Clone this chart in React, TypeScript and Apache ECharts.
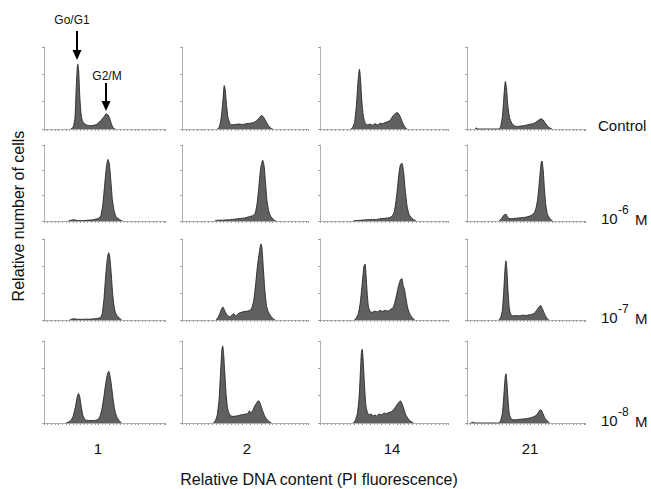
import React, { useEffect, useRef } from "react";
import * as echarts from "echarts";

// Days (columns) and concentrations (rows)
const days = ["1", "2", "14", "21"];
const rowLabels = ["Control", "10^-6", "10^-7", "10^-8"];

// Histograms: [relative DNA content (0-100), relative number of cells (0-100)]
const ctrlDay1 = [[22,0],[24,2],[25.5,12],[26.5,45],[27.5,75],[28,79],[28.7,70],[29.5,42],[30.5,20],[31.5,11],[33,7],[35,5],[38,4],[41,4.5],[44,6],[46,9],[48,12],[50,16],[51.5,18.5],[53,17],[54.5,12],[56,5],[57.5,1],[59,0]];
const ctrlDay2 = [[28,0],[29.5,2],[31,12],[32.5,35],[33.5,53],[34.3,48],[35.3,30],[36.5,14],[38,7],[39.5,5],[42,5.5],[45,6],[48,5.5],[51,6.5],[54,7],[57,8],[59,10],[61,13],[63,16.5],[64.5,15],[66,11],[67.5,7],[69,3],[71,0.5],[72,0]];
const ctrlDay14 = [[24,0],[25.5,2],[27,8],[28.5,30],[29.8,60],[30.8,73],[31.6,62],[32.5,38],[33.5,20],[34.5,11],[35.5,7],[37,5],[39,6],[41,4.5],[43,6.5],[45,5],[47,7],[49,6.5],[51,8],[53,9],[55,11],[57,16],[59,19],[60.5,20],[62,17],[63.5,12],[65,6],[66.5,2],[68,0]];
const ctrlDay21 = [[7,0],[8,1.5],[9,0],[27,0],[28.5,3],[30,15],[31.3,40],[32.5,58],[33.5,50],[34.5,30],[36,14],[38,7],[40,4],[42,3],[45,3.5],[48,4],[51,5],[54,6],[57,7],[59,9],[61,11],[63,12.5],[64.5,11],[66,8],[68,4],[70,1.5],[72,0]];

const m6Day1 = [[20,0],[22,1],[25,1.5],[28,0.5],[32,0.5],[36,1],[40,1.5],[43,2.5],[45.5,4],[47,7],[48.5,20],[50,45],[51.5,70],[52.8,81],[54,75],[55.3,52],[56.5,28],[58,13],[59.5,6],[61.5,3],[63.5,1],[65,0]];
const m6Day2 = [[26,0],[28,1],[32,1],[36,1.5],[40,2],[44,3],[47,3.5],[50,4],[53,5.5],[56,7],[58,10],[59.5,22],[61,45],[62.5,70],[64,80],[65.2,72],[66.3,50],[67.5,26],[69,12],[70.5,6],[72.5,2],[74.5,0]];
const m6Day14 = [[26,0],[28,0.5],[32,1],[36,1.5],[40,2],[44,2],[47,3],[50,3.5],[53,4],[56,6],[58,12],[60,35],[61.5,60],[62.8,74],[64,76],[65.3,65],[66.5,42],[68,20],[69.5,9],[71,5],[73,2],[75,0]];
const m6Day21 = [[27,0],[28.5,2],[30,5],[31.5,8],[33,9],[34.2,6],[35.5,3.5],[38,3],[41,3.5],[44,4],[47,4.5],[50,5],[53,6.5],[55,8],[57,11],[58.5,17],[60,30],[61.5,55],[62.8,76],[63.5,79],[64.5,68],[65.5,45],[66.7,22],[68,10],[69.5,5],[71,2],[72.5,0]];

const m7Day1 = [[21,0],[23,1],[25,1.5],[27,1],[30,0.8],[34,1],[38,1],[41,1.5],[44,2],[46.5,3],[48,7],[49.5,25],[51,55],[52.5,78],[53.5,83],[54.5,76],[55.8,52],[57,28],[58.5,12],[60,6],[62,3],[64,0]];
const m7Day2 = [[27,0],[28.5,3],[30,8],[31.5,14],[32.5,16],[33.5,13],[35,8],[36.5,5],[38,4],[39.5,6],[41,8],[42.5,5],[44,7],[46,9],[48,10],[50,10.5],[52,11],[54,12],[55.5,15],[57,25],[58.5,45],[60,68],[61.5,85],[62.7,94],[63.5,88],[64.5,65],[65.7,38],[67,18],[68.5,10],[70,6],[72,2],[74,0]];
const m7Day14 = [[27,0],[28.5,3],[30,8],[31.5,22],[33,45],[34.3,66],[35.2,69],[36,55],[37,30],[38,15],[39.5,10],[41,9.5],[43,11],[45,10],[47,12],[49,10.5],[51,12],[53,11],[55,13],[57,15],[58.5,22],[60,32],[61.5,43],[63,50],[64,51],[65,42],[66,38],[67,28],[68.5,15],[70,8],[72,3],[74,0]];
const m7Day21 = [[27,0],[28.5,3],[30,12],[31.3,40],[32.3,65],[33,73],[33.8,62],[34.8,35],[35.8,15],[37,7],[39,5],[41,5.5],[44,5],[47,6],[50,5.5],[53,6.5],[56,7.5],[58,10],[60,14],[61.5,17],[62.5,18],[63.5,15],[65,10],[66.5,5],[68,2],[69.5,0]];

const m8Day1 = [[18,0],[20,1],[22,3],[24,8],[26,20],[27.5,32],[28.5,36],[29.5,32],[30.8,20],[32,10],[33.5,5],[35,3.5],[38,3],[41,3],[43,3.5],[45,5],[46.5,9],[48,18],[49.5,32],[51,48],[52.5,60],[53.5,63],[54.5,58],[55.8,45],[57,30],[58.5,16],[60,8],[62,3],[64,0]];
const m8Day2 = [[25,0],[26.5,3],[28,10],[29.5,30],[30.7,65],[31.7,90],[32.3,94],[33,85],[34,60],[35,35],[36,20],[37,13],[38.5,9],[40.5,8],[43,8.5],[45,9],[47,10],[49,10.5],[51,11],[52.5,12],[53.5,15],[54.5,12],[56,15],[57.5,20],[59,24],[60.5,27],[61.5,26],[62.5,22],[64,15],[65.5,9],[67,5],[69,2],[71,0]];
const m8Day14 = [[26,0],[27.5,3],[29,10],[30.5,30],[31.5,60],[32.3,85],[33,90],[33.8,75],[34.8,45],[35.8,22],[37,13],[38.5,10],[40,11],[41.5,8.5],[43,10],[44.5,8],[46,11],[48,10],[50,12],[52,11.5],[54,13],[56,14],[58,17],[60,22],[61.5,25],[62.8,27],[64,24],[65.5,17],[67,10],[69,5],[71,2],[73,0]];
const m8Day21 = [[3,0],[5,1],[7,0],[27,0],[28.5,3],[30,12],[31.3,35],[32.3,55],[33,60],[33.8,50],[34.8,28],[35.8,12],[37,6],[39,4],[42,4],[45,4.5],[48,5],[51,5.5],[54,6.5],[57,8],[59,10],[60.5,13],[62,16],[63,15.5],[64.5,11],[66,6],[68,2.5],[70,0]];

const panels = [
  [ctrlDay1, ctrlDay2, ctrlDay14, ctrlDay21],
  [m6Day1, m6Day2, m6Day14, m6Day21],
  [m7Day1, m7Day2, m7Day14, m7Day21],
  [m8Day1, m8Day2, m8Day14, m8Day21],
];

// Layout
const colLeft = [44, 182, 320, 467];
const colWidth = [121, 126, 128, 118];
const rowTop = [47, 145, 239, 341];
const rowHeight = [82, 76, 81, 82];
const FONT = "Liberation Sans, Arial, sans-serif";

export default function App() {
  const ref = useRef<HTMLDivElement>(null);
  useEffect(() => {
    if (!ref.current) return;
    const chart = echarts.init(ref.current, null, { renderer: "svg" });
    const grid: any[] = [];
    const xAxis: any[] = [];
    const yAxis: any[] = [];
    const series: any[] = [];
    let idx = 0;
    for (let r = 0; r < 4; r++) {
      for (let c = 0; c < 4; c++) {
        grid.push({ left: colLeft[c], top: rowTop[r], width: colWidth[c], height: rowHeight[r] });
        xAxis.push({
          type: "value", gridIndex: idx, min: 0, max: 100, interval: 3,
          axisLine: { lineStyle: { color: "#b0b0b0", width: 1 } },
          axisTick: { show: true, length: 2, lineStyle: { color: "#a0a0a0" } },
          axisLabel: { show: false }, splitLine: { show: false },
        });
        yAxis.push({
          type: "value", gridIndex: idx, min: 0, max: 100, interval: 100 / 3,
          axisLine: { show: true, lineStyle: { color: "#b0b0b0", width: 1 } },
          axisTick: { show: true, length: 2, lineStyle: { color: "#a0a0a0" } },
          axisLabel: { show: false }, splitLine: { show: false },
        });
        series.push({
          type: "line", xAxisIndex: idx, yAxisIndex: idx, data: panels[r][c],
          showSymbol: false, symbol: "none", smooth: 0.2,
          lineStyle: { color: "#262626", width: 0.9 },
          areaStyle: { color: "#606060", opacity: 1 },
          silent: true,
        });
        idx++;
      }
    }

    const graphic: any[] = [];
    // Annotations with arrows
    graphic.push({ type: "text", x: 72, y: 20, style: { text: "Go/G1", font: `12px ${FONT}`, fill: "#111", align: "center", verticalAlign: "middle" } });
    graphic.push({ type: "line", shape: { x1: 77, y1: 31, x2: 77, y2: 52 }, style: { stroke: "#000", lineWidth: 2 } });
    graphic.push({ type: "polygon", shape: { points: [[72.5, 50], [81.5, 50], [77, 60]] }, style: { fill: "#000" } });
    graphic.push({ type: "text", x: 107, y: 76, style: { text: "G2/M", font: `12px ${FONT}`, fill: "#111", align: "center", verticalAlign: "middle" } });
    graphic.push({ type: "line", shape: { x1: 106, y1: 83, x2: 106, y2: 103 }, style: { stroke: "#000", lineWidth: 2 } });
    graphic.push({ type: "polygon", shape: { points: [[101.5, 101], [110.5, 101], [106, 111]] }, style: { fill: "#000" } });

    // Row labels
    graphic.push({ type: "text", x: 598, y: 125, style: { text: rowLabels[0], font: `15px ${FONT}`, fill: "#111", align: "left", verticalAlign: "middle" } });
    const rowY = [218, 317, 420];
    for (let i = 1; i < 4; i++) {
      const y = rowY[i - 1];
      graphic.push({ type: "text", x: 601, y, style: { text: "10", font: `15px ${FONT}`, fill: "#111", align: "left", verticalAlign: "middle" } });
      graphic.push({ type: "text", x: 618, y: y - 8, style: { text: rowLabels[i].replace("10^", ""), font: `12px ${FONT}`, fill: "#111", align: "left", verticalAlign: "middle" } });
      graphic.push({ type: "text", x: 635, y: y + 1, style: { text: "M", font: `15px ${FONT}`, fill: "#111", align: "left", verticalAlign: "middle" } });
    }

    // Column labels
    const colX = [98, 247, 392, 530];
    days.forEach((d, i) => {
      graphic.push({ type: "text", x: colX[i], y: 448, style: { text: d, font: `15px ${FONT}`, fill: "#111", align: "center", verticalAlign: "middle" } });
    });

    // Axis titles
    graphic.push({ type: "text", x: 319, y: 479, style: { text: "Relative DNA content (PI fluorescence)", font: `16px ${FONT}`, fill: "#111", align: "center", verticalAlign: "middle" } });
    graphic.push({ type: "text", x: 18, y: 216, rotation: Math.PI / 2, style: { text: "Relative number of cells", font: `16px ${FONT}`, fill: "#111", align: "center", verticalAlign: "middle" } });

    chart.setOption({
      animation: false,
      backgroundColor: "#ffffff",
      grid, xAxis, yAxis, series, graphic,
    });
    return () => chart.dispose();
  }, []);
  return <div ref={ref} style={{ position: "fixed", left: 0, top: 0, width: 651, height: 489 }} />;
}
